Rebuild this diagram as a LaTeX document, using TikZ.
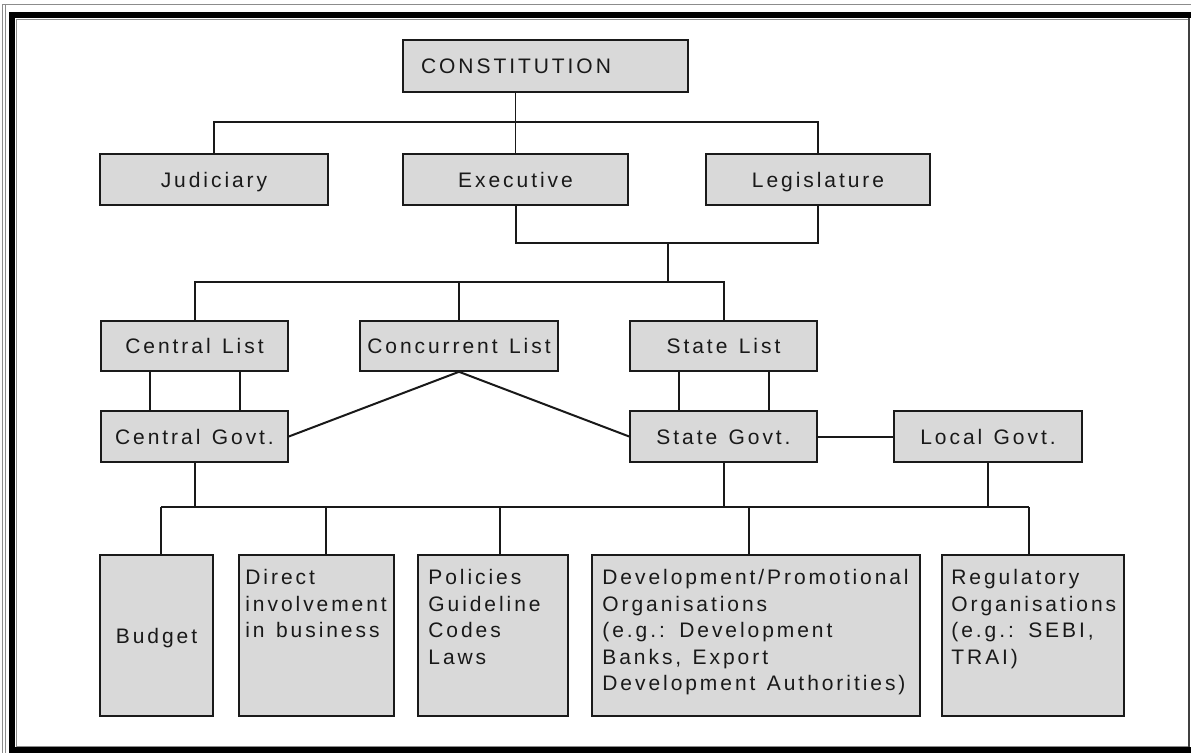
\documentclass[tikz,border=0pt]{standalone}
\usepackage{fontspec}
\setmainfont{Liberation Sans}[LetterSpace=14, WordSpace=1.3]
\definecolor{boxfill}{HTML}{D9D9D9}
\definecolor{boxline}{HTML}{1A1A1A}
\definecolor{framegray}{HTML}{8C8C8C}

\begin{document}
\begin{tikzpicture}[x=1pt, y=-1pt,
  box/.style={draw=boxline, fill=boxfill, line width=1.6pt, inner sep=0pt,
              text height=15pt, text depth=0pt,
              font=\fontsize{21}{26.5}\selectfont, text=black!90},
  blank/.style={draw=boxline, fill=boxfill, line width=1.6pt, inner sep=0pt},
  txt/.style={inner sep=0pt, anchor=north west, align=left,
              font=\fontsize{21}{26.5}\selectfont, text=black!90},
  link/.style={line width=2pt, draw=black!90},
  thinlink/.style={line width=1.4pt, draw=black!90},
]
\useasboundingbox (0,0) rectangle (1191,753);

% page frame
\draw[framegray, line width=0.8pt] (2,4) -- (1191,4);
\draw[framegray, line width=0.8pt] (2,4) -- (2,753);
\draw[framegray, line width=0.8pt] (5,4) -- (5,753);
\fill[black] (9,12) rectangle (15,753);
\fill[black] (9,12) rectangle (1191,18);
\fill[black] (9,747) rectangle (1191,753);
\draw[framegray, line width=0.8pt] (16,746) -- (16,19) -- (1188,19);
\draw[framegray, line width=0.8pt] (16,746) -- (1188,746);
\draw[black!75, line width=1.5pt] (1189,18) -- (1189,747);

% top level
\node[box, minimum width=285pt, minimum height=52pt] (const) at (545.5,66) {\hspace*{-59pt}CONSTITUTION};
\node[box, minimum width=228pt, minimum height=51pt] (jud)  at (214,179.5)   {Judiciary};
\node[box, minimum width=225pt, minimum height=51pt] (exec) at (515.5,179.5) {Executive};
\node[box, minimum width=224pt, minimum height=51pt] (leg)  at (818,179.5)   {Legislature};

% lists
\node[box, minimum width=187pt, minimum height=50pt] (clist) at (194.5,346) {Central List};
\node[box, minimum width=198pt, minimum height=50pt] (conc)  at (459,346)   {Concurrent List};
\node[box, minimum width=187pt, minimum height=50pt] (slist) at (723.5,346) {State List};

% governments
\node[box, minimum width=187pt, minimum height=51pt] (cgov) at (194.5,436.5) {Central Govt.};
\node[box, minimum width=187pt, minimum height=51pt] (sgov) at (723.5,436.5) {State Govt.};
\node[box, minimum width=188pt, minimum height=51pt] (lgov) at (988,436.5)   {Local Govt.};

% instruments
\node[box, minimum width=113pt, minimum height=161pt] (budget) at (156.5,635.5) {Budget};
\node[blank, minimum width=155pt, minimum height=161pt] (direct) at (316.5,635.5) {};
\node[blank, minimum width=150pt, minimum height=161pt] (policy) at (493,635.5) {};
\node[blank, minimum width=328pt, minimum height=161pt] (devorg) at (756,635.5) {};
\node[blank, minimum width=182pt, minimum height=161pt] (regorg) at (1033,635.5) {};

\node[txt] (direct-t) at ([xshift=7pt, yshift=-15pt]direct.north west) {Direct\\involvement\\in business};
\node[txt] (policy-t) at ([xshift=11pt, yshift=-15pt]policy.north west) {Policies\\Guideline\\Codes\\Laws};
\node[txt] (devorg-t) at ([xshift=11pt, yshift=-15pt]devorg.north west) {Development/Promotional\\Organisations\\(e.g.:  Development\\Banks, Export\\Development Authorities)};
\node[txt] (regorg-t) at ([xshift=10pt, yshift=-15pt]regorg.north west) {Regulatory\\Organisations\\(e.g.:  SEBI,\\TRAI)};

% bus lines
\coordinate (busA) at (0,122);
\coordinate (busB) at (818,243);
\coordinate (drop) at (668,243);
\coordinate (busC) at (0,282);
\coordinate (busD) at (0,507);
\coordinate (d1) at (161,507);
\coordinate (d2) at (326,507);
\coordinate (d3) at (500,507);
\coordinate (d4) at (749,507);
\coordinate (d5) at (1029,507);

% constitution to the three organs
\draw[thinlink] (exec.north |- const.south) -- (exec.north);
\draw[thinlink] (jud.north) -- (jud.north |- busA) -- (leg.north |- busA) -- (leg.north);

% organs to the lists
\draw[link] (exec.south) |- (busB) -- (leg.south);
\draw[link] (drop) -- (drop |- busC);
\draw[link] (clist.north) |- (slist.north |- busC) -- (slist.north);
\draw[link] (conc.north |- busC) -- (conc.north);

% lists to governments
\draw[link] ([xshift=-45pt]clist.south) -- ([xshift=-45pt]cgov.north);
\draw[link] ([xshift=45pt]clist.south)  -- ([xshift=45pt]cgov.north);
\draw[link] ([xshift=-45pt]slist.south) -- ([xshift=-45pt]sgov.north);
\draw[link] ([xshift=45pt]slist.south)  -- ([xshift=45pt]sgov.north);
\draw[link] (cgov.east) -- (conc.south) -- (sgov.west);
\draw[link] (sgov.east) -- (lgov.west);

% governments to the instruments
\draw[link] (cgov.south) -- (cgov.south |- busD);
\draw[link] (sgov.south) -- (sgov.south |- busD);
\draw[link] (lgov.south) -- (lgov.south |- busD);
\draw[link] (d1) -- (d5);
\draw[link] (d1) -- (d1 |- budget.north);
\draw[link] (d2) -- (d2 |- direct.north);
\draw[link] (d3) -- (d3 |- policy.north);
\draw[link] (d4) -- (d4 |- devorg.north);
\draw[link] (d5) -- (d5 |- regorg.north);
\end{tikzpicture}
\end{document}
